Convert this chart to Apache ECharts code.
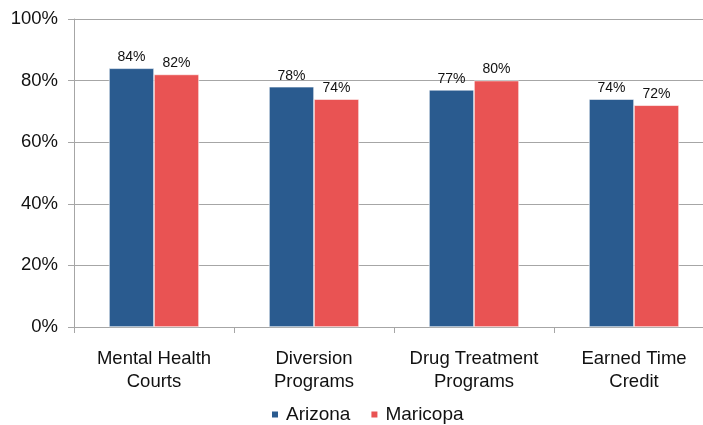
<!DOCTYPE html>
<html>
<head>
<meta charset="utf-8">
<script src="https://cdn.jsdelivr.net/npm/echarts@6/dist/echarts.min.js"></script>
<style>
  html, body { margin: 0; padding: 0; background: #fff; }
  #chart { width: 703px; height: 425px; }
</style>
</head>
<body>
<div id="chart"></div>
<script>
const categories = ["Mental Health\nCourts", "Diversion\nPrograms", "Drug Treatment\nPrograms", "Earned Time\nCredit"];
const arizona = [84, 78, 77, 74];
const maricopa = [82, 74, 80, 72];
const yTicks = [0, 20, 40, 60, 80, 100];

const font = "Liberation Sans, Arial, sans-serif";

const barSeries = (name, data, color) => ({
  name: name,
  type: "bar",
  data: data,
  barWidth: 45,
  barGap: "0%",
  itemStyle: {
    color: color,
    borderColor: "#ffffff",
    borderWidth: 0.6
  },
  label: {
    show: true,
    position: "top",
    distance: 4,
    formatter: "{c}%",
    color: "#111",
    fontFamily: font,
    fontSize: 14
  }
});

const chart = echarts.init(document.getElementById("chart"));
chart.setOption({
  animation: false,
  textStyle: { fontFamily: font },
  grid: { left: 74, width: 640, top: 19, bottom: 98, outerBoundsMode: "none" },
  legend: {
    bottom: -4,
    left: 265,
    itemWidth: 8,
    itemHeight: 8,
    itemGap: 19,
    icon: "rect",
    textStyle: { fontFamily: font, fontSize: 19, color: "#111", padding: [0, 0, 0, 2] },
    data: ["Arizona", "Maricopa"]
  },
  xAxis: {
    type: "category",
    data: categories,
    axisLine: { lineStyle: { color: "#a6a6a6", width: 1 } },
    axisTick: { show: true, length: 6, lineStyle: { color: "#a6a6a6" } },
    axisLabel: {
      color: "#111",
      fontFamily: font,
      fontSize: 18.5,
      lineHeight: 23,
      margin: 20,
      interval: 0
    }
  },
  yAxis: {
    type: "value",
    min: yTicks[0],
    max: yTicks[yTicks.length - 1],
    interval: 20,
    axisLine: { show: true, lineStyle: { color: "#a6a6a6" } },
    axisTick: { show: true, length: 6, lineStyle: { color: "#a6a6a6" } },
    splitLine: { lineStyle: { color: "#a6a6a6", width: 1 } },
    axisLabel: {
      formatter: "{value}%",
      color: "#111",
      fontFamily: font,
      fontSize: 18.5,
      margin: 16
    }
  },
  series: [
    barSeries("Arizona", arizona, "#2a5b8f"),
    barSeries("Maricopa", maricopa, "#e95353")
  ]
});
</script>
</body>
</html>
